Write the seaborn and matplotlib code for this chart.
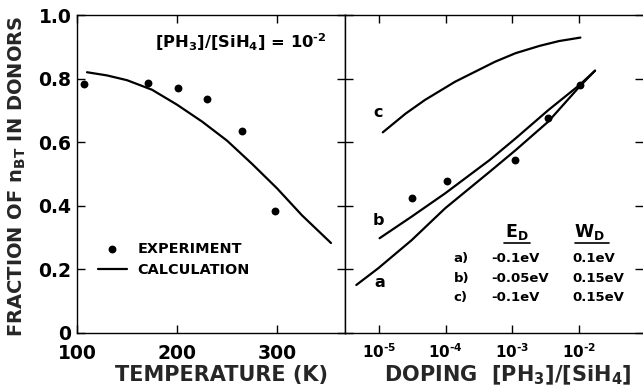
import numpy as np
import pandas as pd
import matplotlib
matplotlib.use("Agg")
import matplotlib.pyplot as plt
import seaborn as sns
from matplotlib.lines import Line2D

# ---------------- data ----------------
# left panel: fraction vs temperature
temp_exp = [107, 171, 201, 230, 265, 298]
frac_exp = [0.783, 0.786, 0.770, 0.736, 0.635, 0.384]
temp_calc = [110, 130, 150, 175, 200, 225, 250, 275, 300, 325, 354]
frac_calc = [0.820, 0.810, 0.795, 0.765, 0.718, 0.665, 0.605, 0.532, 0.455, 0.370, 0.283]

# right panel: fraction vs doping [PH3]/[SiH4]
dop_exp = [3.16e-5, 1.05e-4, 1.08e-3, 3.47e-3, 1.05e-2]
frac_dop_exp = [0.424, 0.478, 0.544, 0.675, 0.780]
dop_a = [4.57e-6, 9.8e-6, 3.09e-5, 9.8e-5, 4.57e-4, 1.12e-3, 3.47e-3, 1.02e-2, 1.74e-2]
frac_a = [0.151, 0.204, 0.292, 0.392, 0.507, 0.575, 0.665, 0.775, 0.825]
dop_b = [1.02e-5, 3.09e-5, 9.8e-5, 4.57e-4, 1.12e-3, 3.47e-3, 1.02e-2, 1.74e-2]
frac_b = [0.298, 0.366, 0.439, 0.544, 0.612, 0.701, 0.780, 0.825]
dop_c = [1.14e-5, 2.51e-5, 4.9e-5, 1.38e-4, 5.5e-4, 1.12e-3, 2.57e-3, 5.0e-3, 1.05e-2]
frac_c = [0.631, 0.690, 0.733, 0.790, 0.853, 0.880, 0.903, 0.918, 0.929]

temp_ticks = [100, 200, 300]
frac_ticks = [0, 0.2, 0.4, 0.6, 0.8, 1.0]
frac_tick_labels = ["0", "0.2", "0.4", "0.6", "0.8", "1.0"]
dop_ticks = [1e-5, 1e-4, 1e-3, 1e-2]
dop_tick_labels = ["10$^{\u20105}$", "10$^{\u20104}$", "10$^{\u20103}$", "10$^{\u20102}$"]
curve_names = ["a", "b", "c"]
table_rows = ["a)", "b)", "c)"]
table_ed = ["-0.1eV", "-0.05eV", "-0.1eV"]
table_wd = ["0.1eV", "0.15eV", "0.15eV"]

# ---------------- style ----------------
sns.set_theme(style="ticks")
plt.rcParams.update({
    "font.family": ["DejaVu Sans"],
    "font.weight": "bold",
    "axes.labelweight": "bold",
    "mathtext.fontset": "custom",
    "mathtext.rm": "DejaVu Sans:bold",
    "mathtext.bf": "DejaVu Sans:bold",
    "mathtext.it": "DejaVu Sans:bold",
    "mathtext.sf": "DejaVu Sans:bold",
    "axes.linewidth": 1.0,
    "axes.edgecolor": "black",
    "xtick.direction": "in",
    "ytick.direction": "in",
    "xtick.major.size": 6,
    "ytick.major.size": 6,
    "xtick.major.width": 1.0,
    "ytick.major.width": 1.0,
    "xtick.color": "black",
    "ytick.color": "black",
    "text.color": "black",
})

FS_TICK = 13.5
FS_LAB = 15
fig = plt.figure(figsize=(6.43, 3.88), dpi=100)
axL = fig.add_axes([77 / 643, 55 / 388, 268 / 643, 318 / 388])
axR = fig.add_axes([345 / 643, 55 / 388, 298 / 643, 318 / 388])

# ---------------- left panel ----------------
df_exp = pd.DataFrame({"T": temp_exp, "f": frac_exp})
df_calc = pd.DataFrame({"T": temp_calc, "f": frac_calc})
sns.lineplot(data=df_calc, x="T", y="f", color="black", lw=1.6, ax=axL,
             estimator=None, sort=True, label="CALCULATION")
sns.scatterplot(data=df_exp, x="T", y="f", color="black", s=32, edgecolor="black",
                linewidth=0, ax=axL, label="EXPERIMENT", zorder=3)

axL.set_xlim(100, 368)
axL.set_ylim(0, 1.0)
axL.set_xticks(temp_ticks)
axL.set_xticklabels([str(t) for t in temp_ticks])
axL.set_yticks(frac_ticks)
axL.set_yticklabels(frac_tick_labels)
axL.minorticks_off()
axL.tick_params(top=True, right=True, labelsize=FS_TICK, pad=4)
axL.tick_params(axis="x", pad=8)
axL.set_xlabel("TEMPERATURE (K)", fontsize=FS_LAB, fontweight="bold")
axL.set_ylabel(r"FRACTION OF n$_{\rm BT}$ IN DONORS", fontsize=14, fontweight="bold")
axL.xaxis.set_label_coords(0.539, -0.132)
axL.xaxis.label.set_va("center")
axL.yaxis.set_label_coords(-0.222, 0.494)
axL.yaxis.label.set_va("center")

h, l = axL.get_legend_handles_labels()
order = [l.index("EXPERIMENT"), l.index("CALCULATION")]
axL.legend([h[i] for i in order], [l[i] for i in order], frameon=False,
           loc="center left", bbox_to_anchor=(0.04, 0.232),
           handlelength=2.0, handletextpad=0.75, labelspacing=0.5,
           borderaxespad=0.3, prop={"weight": "bold", "size": 10.4})

axL.text(0.29, 0.915, "[PH$_3$]/[SiH$_4$] = 10$^{\u20102}$", transform=axL.transAxes,
         fontsize=11.8, fontweight="bold", ha="left", va="center")

# ---------------- right panel ----------------
for xs, ys in [(dop_a, frac_a), (dop_b, frac_b), (dop_c, frac_c)]:
    sns.lineplot(x=xs, y=ys, color="black", lw=1.6, ax=axR, estimator=None, sort=True)
sns.scatterplot(x=dop_exp, y=frac_dop_exp, color="black", s=32, edgecolor="black",
                linewidth=0, ax=axR, zorder=3)

axR.set_xscale("log")
axR.set_xlim(10 ** -5.51, 10 ** -1.04)
axR.set_ylim(0, 1.0)
axR.set_xticks(dop_ticks)
axR.set_xticklabels(dop_tick_labels)
axR.set_yticks(frac_ticks)
axR.minorticks_off()
axR.spines["right"].set_visible(False)
axR.tick_params(top=True, right=True, left=True, labelleft=False)
axR.tick_params(axis="x", pad=7, labelsize=11)
axR.set_xlabel(r"DOPING  [PH$_3$]/[SiH$_4$]", fontsize=FS_LAB, fontweight="bold")
axR.xaxis.set_label_coords(0.545, -0.132)
axR.xaxis.label.set_va("center")

# curve letters
for name, (xf, yf) in zip(curve_names, [(0.115, 0.16), (0.112, 0.355), (0.112, 0.692)]):
    axR.text(xf, yf, name, transform=axR.transAxes, fontsize=11.5, fontweight="bold",
             ha="center", va="center")

# parameter table
axR.text(0.577, 0.318, r"E$_{\rm D}$", transform=axR.transAxes, fontsize=12.5,
         fontweight="bold", ha="center", va="center")
axR.text(0.82, 0.318, r"W$_{\rm D}$", transform=axR.transAxes, fontsize=12.5,
         fontweight="bold", ha="center", va="center")
for x0, x1 in [(0.535, 0.62), (0.772, 0.886)]:
    axR.add_line(Line2D([x0, x1], [0.284, 0.284], transform=axR.transAxes,
                        color="black", lw=1.2))
row_y = [0.233, 0.171, 0.113]
for yv, r, e, w in zip(row_y, table_rows, table_ed, table_wd):
    axR.text(0.364, yv, r, transform=axR.transAxes, fontsize=9.5, fontweight="bold",
             ha="left", va="center")
    axR.text(0.49, yv, e, transform=axR.transAxes, fontsize=9.5, fontweight="bold",
             ha="left", va="center")
    axR.text(0.762, yv, w, transform=axR.transAxes, fontsize=9.5, fontweight="bold",
             ha="left", va="center")

fig.savefig("out.png", dpi=100)
